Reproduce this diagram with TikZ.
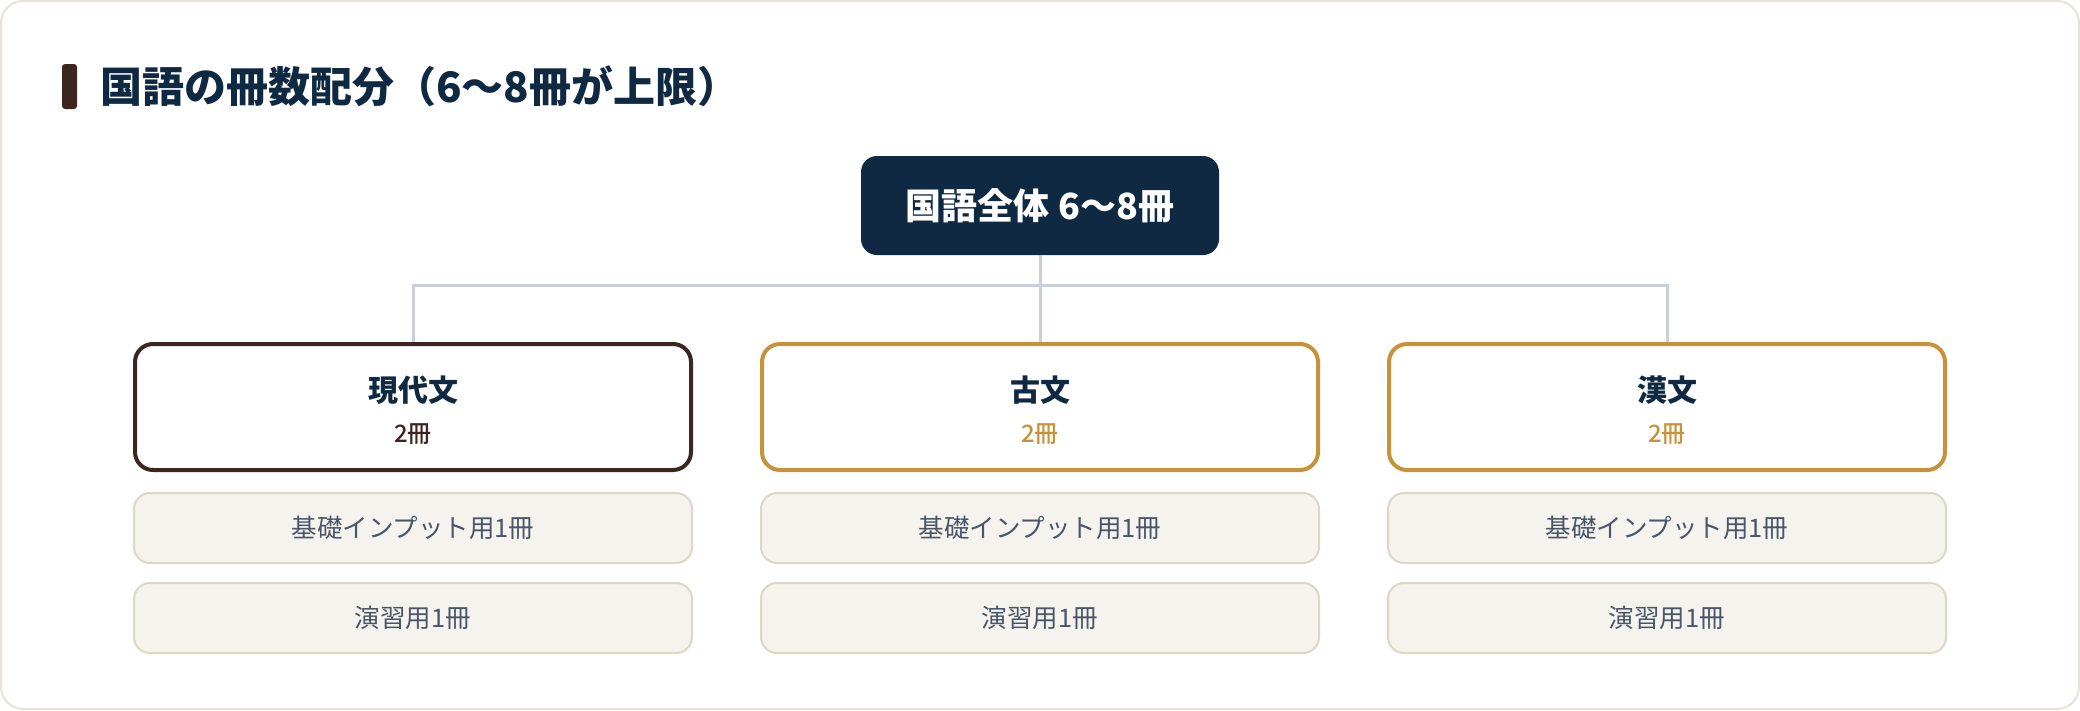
\documentclass[tikz,border=0pt]{standalone}
\usepackage{fontspec}
\setmainfont{Noto Sans CJK JP}
\newfontfamily\jpmedium{Noto Sans CJK JP Medium}
\usetikzlibrary{positioning}

\definecolor{navy}{HTML}{0F2942}
\definecolor{brownish}{HTML}{3D2620}
\definecolor{gold}{HTML}{C8923A}
\definecolor{cardline}{HTML}{E6E3D6}
\definecolor{linkgray}{HTML}{C9CFD9}
\definecolor{subfill}{HTML}{F5F3EE}
\definecolor{subline}{HTML}{DCD8C6}
\definecolor{slate}{HTML}{4A5568}

\newcommand{\fs}[1]{\fontsize{#1}{#1}\selectfont}

\begin{document}
\begin{tikzpicture}[x=1pt,y=-1pt,
		total/.style={fill=navy, rounded corners=16, minimum width=358, minimum height=99, text=white, font=\fs{36}\bfseries},
		part/.style={draw=#1, line width=4, fill=white, rounded corners=18, minimum width=556, minimum height=126},
		sub/.style={draw=subline, line width=2, fill=subfill, rounded corners=16, minimum width=558, minimum height=70, text=slate, font=\fs{25.5}},
		link/.style={draw=linkgray, line width=3}]
		\useasboundingbox (0,0) rectangle (2080,710);
		\draw[cardline, line width=2, fill=white, rounded corners=22] (1,1) rectangle (2079,709);
		\fill[brownish, rounded corners=3] (62,64) rectangle (77,109);
		\node[anchor=west, text=navy, font=\fs{42}\bfseries, inner sep=0] (title) at (100,86) {国語の冊数配分（6〜8冊が上限）};
		\node[total] (all) at (1040,205.5) {国語全体 6〜8冊};
		\coordinate (bus) at (1040,285);
		\foreach \n/\x/\name/\col in {A/413/現代文/brownish, B/1040/古文/gold, C/1667/漢文/gold} {
			\node[part=\col] (hd\n) at (\x,407) {};
			\node[text=navy, font=\fs{30}\bfseries] (hd\n t) at (\x,390) {\name};
			\node[text=\col, font=\fs{24}\jpmedium] (hd\n n) at (\x,434) {2冊};
			\node[sub] (in\n) at (\x,528) {基礎インプット用1冊};
			\node[sub] (ex\n) at (\x,618) {演習用1冊};
		}
		\draw[link] (all.south) -- (bus);
		\draw[link] (hdA.north) |- (bus) -| (hdC.north);
		\draw[link] (bus) -- (hdB.north);
	\end{tikzpicture}
\end{document}
